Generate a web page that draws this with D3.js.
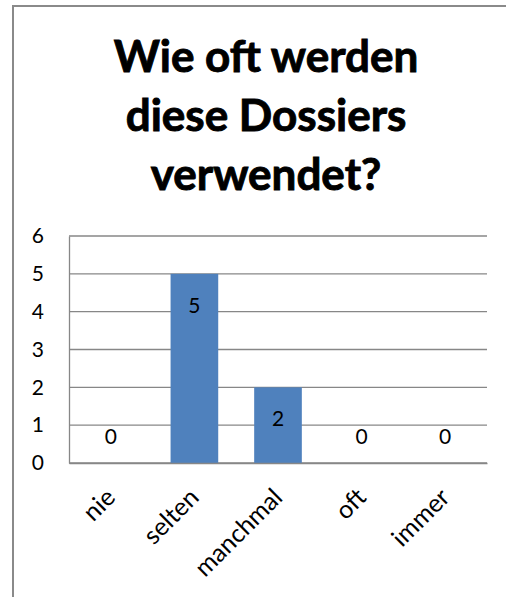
<!DOCTYPE html>
<html>
<head>
<meta charset="utf-8">
<script src="https://cdn.jsdelivr.net/npm/d3@7"></script>
<style>
  html, body { margin: 0; padding: 0; background: #fff; overflow: hidden; }
  svg { display: block; }
</style>
</head>
<body>
<svg id="chart" width="506" height="597"></svg>
<script>
// Survey answers: how often are these dossiers used?
const titleLines = ["Wie oft werden", "diese Dossiers", "verwendet?"];
const categories = ["nie", "selten", "manchmal", "oft", "immer"];
const counts = [0, 5, 2, 0, 0];
const yTicks = [0, 1, 2, 3, 4, 5, 6];

const font = "Lato, 'Open Sans', 'DejaVu Sans', sans-serif";
const svg = d3.select("#chart");

// Chart frame (runs past the right and bottom edges)
svg.append("rect")
  .attr("x", 13).attr("y", 6)
  .attr("width", 560).attr("height", 660)
  .attr("fill", "#fff")
  .attr("stroke", "#8a8a8a")
  .attr("stroke-width", 2);

// Title
const title = svg.append("g")
  .attr("font-family", font)
  .attr("font-weight", "bold")
  .attr("font-size", 44)
  .attr("text-anchor", "middle")
  .attr("fill", "#000")
  .attr("stroke", "#000")
  .attr("stroke-width", 0.9);
title.selectAll("text").data(titleLines).join("text")
  .attr("x", 266)
  .attr("y", (d, i) => 72 + i * 59)
  .text(d => d);

// Plot area
const plot = { left: 69, right: 487, top: 236, bottom: 463 };

const x = d3.scaleBand()
  .domain(categories)
  .range([plot.left, plot.right])
  .paddingInner(0.43)
  .paddingOuter(0.215);

const y = d3.scaleLinear()
  .domain([0, 6])
  .range([plot.bottom, plot.top]);

// Horizontal gridlines
svg.append("g")
  .selectAll("line").data(yTicks).join("line")
  .attr("x1", plot.left).attr("x2", plot.right)
  .attr("y1", d => y(d)).attr("y2", d => y(d))
  .attr("stroke", "#878787")
  .attr("stroke-width", 1.3);

// Bars
svg.append("g")
  .selectAll("rect").data(categories).join("rect")
  .attr("x", d => x(d))
  .attr("width", x.bandwidth())
  .attr("y", (d, i) => y(counts[i]))
  .attr("height", (d, i) => y(0) - y(counts[i]))
  .attr("fill", "#4F81BD");

// Y axis
const yAxis = svg.append("g")
  .attr("transform", `translate(${plot.left},0)`)
  .call(d3.axisLeft(y).tickValues(yTicks).tickSize(0).tickPadding(25).tickFormat(d3.format("d")));
yAxis.select(".domain").attr("stroke", "#878787").attr("stroke-width", 1.3);
yAxis.selectAll("text")
  .attr("font-family", font)
  .attr("font-size", 21)
  .attr("fill", "#000");

// X axis baseline and rotated category labels
const xAxis = svg.append("g")
  .attr("transform", `translate(0,${plot.bottom})`)
  .call(d3.axisBottom(x).tickSize(0).tickFormat(d => d));
xAxis.select(".domain").attr("stroke", "#878787").attr("stroke-width", 1.3);
xAxis.selectAll(".tick text")
  .attr("font-family", font)
  .attr("font-size", 25)
  .attr("fill", "#000")
  .attr("text-anchor", "end")
  .attr("dy", 0)
  .attr("y", 0)
  .attr("transform", "translate(6,36) rotate(-45)");

// Value labels
svg.append("g")
  .attr("font-family", font)
  .attr("font-size", 21)
  .attr("text-anchor", "middle")
  .attr("fill", "#000")
  .selectAll("text").data(categories).join("text")
  .attr("x", d => x(d) + x.bandwidth() / 2)
  .attr("y", (d, i) => counts[i] > 0 ? y(counts[i]) + 39 : y(0) - 19)
  .text((d, i) => counts[i]);
</script>
</body>
</html>
